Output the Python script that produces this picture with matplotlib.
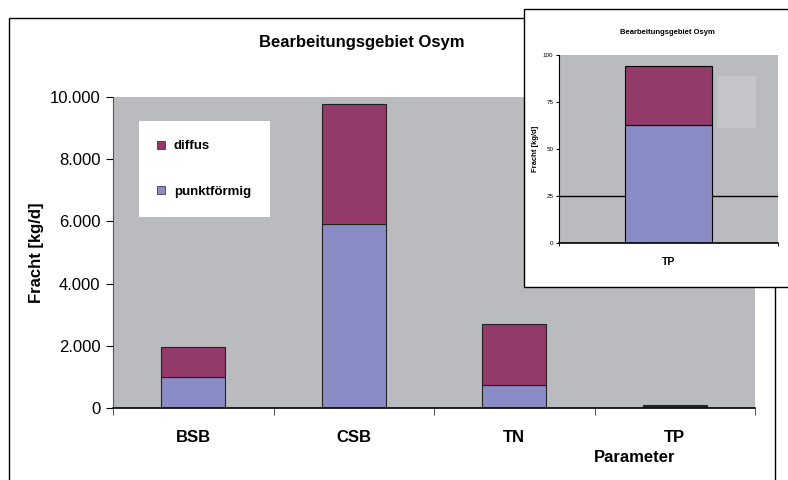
import matplotlib.pyplot as plt
from matplotlib.patches import Rectangle
from matplotlib.lines import Line2D

plt.rcParams['font.family'] = ['Liberation Sans', 'DejaVu Sans']

# data (kg/d)
categories = ['BSB', 'CSB', 'TN', 'TP']
punkt = [1000, 5920, 740, 63]
diffus = [960, 3855, 1960, 31]
yticks = [0, 2000, 4000, 6000, 8000, 10000]
ytick_labels = ['0', '2.000', '4.000', '6.000', '8.000', '10.000']
inset_ticks = [0, 25, 50, 75, 100]

c_punkt = '#8a8cc5'
c_diffus = '#933a6b'
c_bg = '#b9bbbe'

W, H = 788, 480
fig = plt.figure(figsize=(W / 100, H / 100), dpi=100)

def fx(px):
    return px / W

def fy(py):
    return 1 - py / H

# outer chart frame
fig.patches.append(Rectangle((fx(9), fy(490)), fx(775) - fx(9), fy(18) - fy(490),
                             transform=fig.transFigure, fill=False, ec='black', lw=1.0))

# main axes
ax = fig.add_axes([fx(113), fy(408), fx(755) - fx(113), fy(97) - fy(408)])
ax.set_facecolor(c_bg)
x = list(range(len(categories)))
ax.bar(x, punkt, width=0.4, color=c_punkt, edgecolor='#222222', lw=0.8, label='punktförmig')
ax.bar(x, diffus, width=0.4, bottom=punkt, color=c_diffus, edgecolor='#222222', lw=0.8, label='diffus')
ax.set_xlim(-0.5, 3.5)
ax.set_ylim(0, 10000)
ax.set_yticks(yticks)
ax.set_yticklabels(ytick_labels, fontsize=12)
ax.set_xticks(x)
ax.set_xticklabels(categories, fontsize=12, fontweight='bold')
ax.set_xticks([-0.5, 0.5, 1.5, 2.5, 3.5], minor=True)
ax.tick_params(axis='x', which='major', length=0, pad=16)
ax.tick_params(axis='x', which='minor', length=5, direction='out', color='#333333')
ax.tick_params(axis='y', length=5, direction='out', pad=4)
for s in ['top', 'right']:
    ax.spines[s].set_visible(False)
ax.spines['left'].set_color('#555555')
ax.spines['bottom'].set_color('black')
ax.spines['bottom'].set_linewidth(1.2)
ax.set_ylabel('Fracht [kg/d]', fontsize=12, fontweight='bold', labelpad=4)

handles = [Line2D([], [], marker='s', ls='', ms=6, mfc=c_diffus, mec='#222222', mew=0.5),
           Line2D([], [], marker='s', ls='', ms=6, mfc=c_punkt, mec='#222222', mew=0.5)]
leg = ax.legend(handles, ['diffus', 'punktförmig'], loc='upper left',
                bbox_to_anchor=((139 - 113) / (755 - 113), 1 - (121 - 97) / (408 - 97)),
                frameon=True, fancybox=False, framealpha=1, edgecolor='white',
                prop={'size': 9.5, 'weight': 'bold'}, labelspacing=2.5,
                handlelength=0.5, handletextpad=0.7, borderpad=1.45, borderaxespad=0)
leg.get_frame().set_linewidth(0)

fig.text(fx(362), fy(43), 'Bearbeitungsgebiet Osym', ha='center', va='center',
         fontsize=12, fontweight='bold')
fig.text(fx(635), fy(458), 'Parameter', ha='center', va='center',
         fontsize=12, fontweight='bold')

# inset chart (TP only)
fig.patches.append(Rectangle((fx(524), fy(287)), fx(800) - fx(524), fy(9) - fy(287),
                             transform=fig.transFigure, fc='white', ec='black', lw=1.0, zorder=5))
iax = fig.add_axes([fx(559), fy(243), fx(778) - fx(559), fy(55) - fy(243)], zorder=6)
iax.set_facecolor(c_bg)
iax.add_patch(Rectangle((0.72, 0.61), 0.18, 0.28, transform=iax.transAxes,
                        fc='#c4c6c9', ec='none'))
iax.axhline(25, color='black', lw=1.0, zorder=1)
iax.bar([0], [punkt[3]], width=0.4, color=c_punkt, edgecolor='black', lw=0.8, zorder=2)
iax.bar([0], [diffus[3]], width=0.4, bottom=[punkt[3]], color=c_diffus,
        edgecolor='black', lw=0.8, zorder=2)
iax.set_xlim(-0.5, 0.5)
iax.set_ylim(0, 100)
iax.set_yticks(inset_ticks)
iax.set_yticklabels([str(t) for t in inset_ticks], fontsize=4.5)
iax.set_xticks([0])
iax.set_xticklabels(['TP'], fontsize=7.5, fontweight='bold')
iax.set_xticks([-0.5, 0.5], minor=True)
iax.tick_params(axis='x', which='major', length=0, pad=10)
iax.tick_params(axis='x', which='minor', length=2)
iax.tick_params(axis='y', length=2, pad=2)
for s in ['top', 'right']:
    iax.spines[s].set_visible(False)
iax.spines['bottom'].set_linewidth(1.2)
iax.set_ylabel('Fracht [kg/d]', fontsize=5.5, fontweight='bold', labelpad=3)
fig.text(fx(667), fy(33), 'Bearbeitungsgebiet Osym', ha='center', va='center',
         fontsize=5.5, fontweight='bold', zorder=7)

fig.savefig('out.png', dpi=100)
